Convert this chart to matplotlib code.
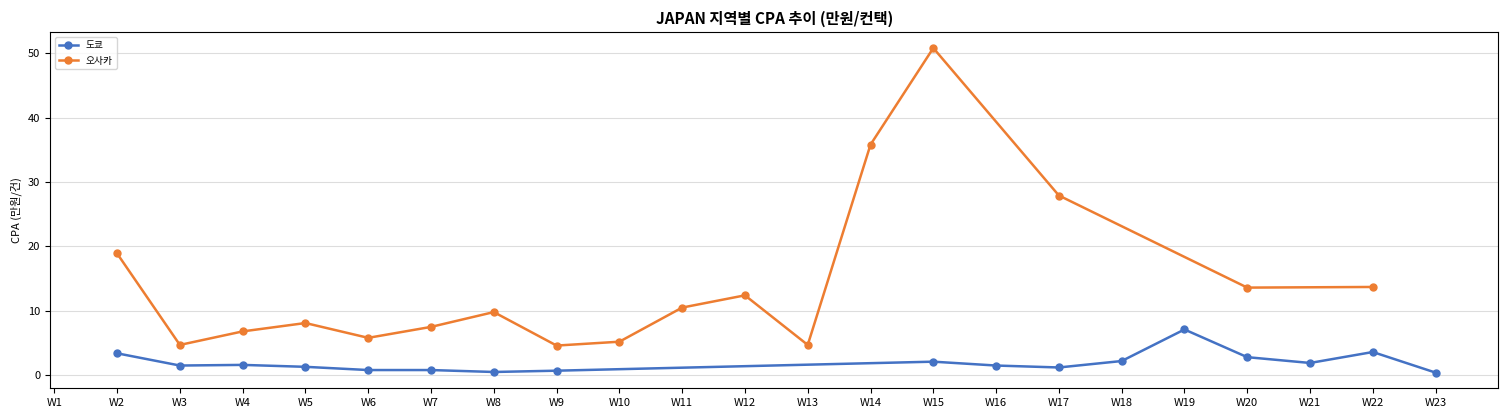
import numpy as np
import matplotlib
matplotlib.use("Agg")
import matplotlib.pyplot as plt

plt.rcParams['font.family'] = ['Noto Sans CJK KR', 'DejaVu Sans']

weeks = [f"W{i}" for i in range(1, 24)]

tokyo_weeks = ["W2", "W3", "W4", "W5", "W6", "W7", "W8", "W9", "W15", "W16",
               "W17", "W18", "W19", "W20", "W21", "W22", "W23"]
tokyo_cpa = [3.4, 1.5, 1.6, 1.3, 0.8, 0.8, 0.5, 0.7, 2.1, 1.5,
             1.2, 2.2, 7.1, 2.8, 1.9, 3.6, 0.4]

osaka_weeks = ["W2", "W3", "W4", "W5", "W6", "W7", "W8", "W9", "W10", "W11",
               "W12", "W13", "W14", "W15", "W17", "W20", "W22"]
osaka_cpa = [18.9, 4.7, 6.8, 8.1, 5.8, 7.5, 9.8, 4.6, 5.2, 10.5,
             12.4, 4.7, 35.8, 50.8, 27.9, 13.6, 13.7]

pos = {w: i for i, w in enumerate(weeks)}

fig, ax = plt.subplots(figsize=(15.12, 4.2), dpi=100)
ax.plot([pos[w] for w in tokyo_weeks], tokyo_cpa, marker='o', color='#4472C4',
        linewidth=1.8, markersize=5, label='도쿄')
ax.plot([pos[w] for w in osaka_weeks], osaka_cpa, marker='o', color='#ED7D31',
        linewidth=1.8, markersize=5, label='오사카')

ax.set_xticks(range(len(weeks)))
ax.set_xticklabels(weeks, fontsize=8)
ax.tick_params(axis='y', labelsize=8)
ax.set_xlim(-0.07, 23.0)
ax.set_ylim(-2.0, 53.3)
ax.set_ylabel('CPA (만원/건)', fontsize=8)
ax.set_title('JAPAN 지역별 CPA 추이 (만원/컨택)', fontsize=11, fontweight='bold')
ax.grid(axis='y', color='#dddddd', linewidth=0.8)
ax.set_axisbelow(True)
ax.legend(loc='upper left', fontsize=7)

plt.subplots_adjust(left=0.033, right=0.991, top=0.924, bottom=0.076)
plt.savefig('out.png')
